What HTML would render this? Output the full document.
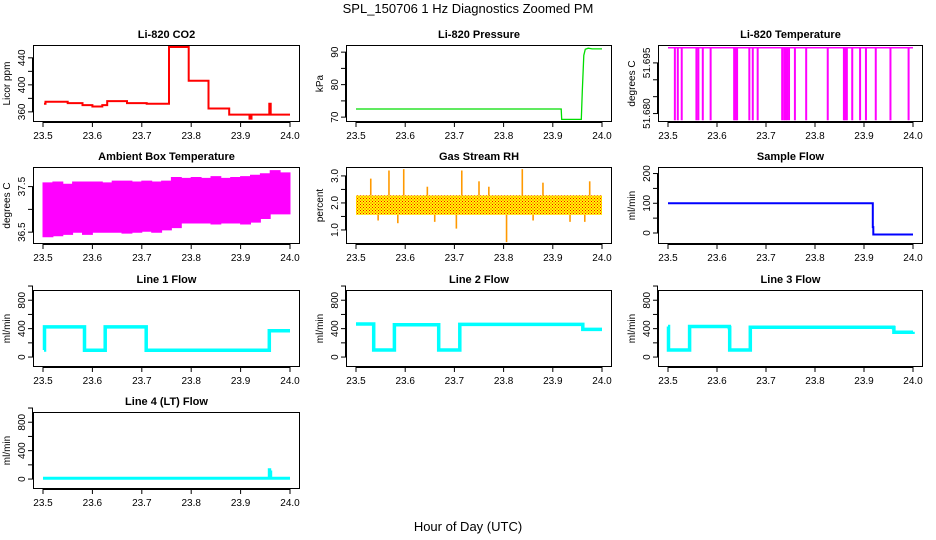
<!DOCTYPE html>
<html><head><meta charset="utf-8"><style>
body{margin:0;background:#fff;}
svg{display:block;font-family:"Liberation Sans",Arial,sans-serif;}
</style></head><body>
<svg id="c" width="936" height="540" xmlns="http://www.w3.org/2000/svg">
<defs>
<pattern id="rhpat" width="3" height="3" patternUnits="userSpaceOnUse"><rect width="3" height="3" fill="#ffff00"/><rect width="1" height="1" fill="#ff0000"/><rect x="1.5" y="1.5" width="1" height="1" fill="#ff0000"/></pattern>
</defs>
<text x="468" y="13" text-anchor="middle" font-size="13">SPL_150706  1 Hz Diagnostics Zoomed PM</text>
<text x="468" y="531" text-anchor="middle" font-size="13">Hour of Day (UTC)</text>
</svg>
<script>
// ---- data ----
const xTicks = [23.5, 23.6, 23.7, 23.8, 23.9, 24.0];
const xTickLabels = ["23.5", "23.6", "23.7", "23.8", "23.9", "24.0"];
const co2T = [23.502,23.505,23.55,23.58,23.60,23.62,23.63,23.67,23.71,23.755,23.795,23.835,23.877,23.915,23.918,23.922,23.957,23.958,23.961,24.0];
const co2V = [372,375,373,370,368,370,376,373,372,456,406,365,356,356,350,356,356,372,356,356];
const presT = [23.5,23.917,23.918,23.958,23.960,23.963,23.966,23.972,23.98,24.0];
const presV = [72.5,72.5,69.3,69.3,78,89,90.9,91.2,91,91];
const tempBase = 51.6995;
const tempLow = 51.678;
const tempDropTimes = [23.514,23.52,23.528,23.558,23.562,23.571,23.587,23.635,23.638,23.641,23.666,23.673,23.683,23.733,23.737,23.740,23.743,23.747,23.759,23.782,23.826,23.859,23.862,23.865,23.876,23.892,23.904,23.924,23.954,23.991];
const ambBins = [23.50,23.52,23.54,23.56,23.58,23.60,23.62,23.64,23.66,23.68,23.70,23.72,23.74,23.76,23.78,23.80,23.82,23.84,23.86,23.88,23.90,23.92,23.94,23.96,23.98];
const ambHi = [37.58,37.6,37.55,37.6,37.6,37.6,37.58,37.62,37.62,37.6,37.62,37.6,37.62,37.7,37.68,37.7,37.68,37.72,37.68,37.7,37.72,37.75,37.78,37.85,37.8];
const ambLo = [36.4,36.42,36.45,36.5,36.45,36.5,36.5,36.5,36.48,36.5,36.52,36.5,36.55,36.6,36.7,36.7,36.7,36.68,36.7,36.7,36.68,36.72,36.8,36.9,36.9];
const rhCoreHi = 2.28, rhCoreLo = 1.56;
const rhSpikeT = [23.53,23.567,23.597,23.715,23.75,23.838,23.88,23.975,23.545,23.585,23.704,23.806,23.935,23.965,23.645,23.66,23.77,23.86];
const rhSpikeV = [2.9,3.2,3.25,3.2,2.8,3.25,2.75,2.8,1.35,1.25,1.05,0.55,1.3,1.3,2.6,1.3,2.6,1.35];
const sfT = [23.5,23.917,23.918,23.919,23.921,24.0];
const sfV = [100,100,20,-5,-5,-5];
const l1T = [23.502,23.503,23.583,23.584,23.625,23.626,23.708,23.709,23.957,23.958,24.0];
const l1V = [100,425,425,95,95,425,425,95,95,370,370];
const l2T = [23.5,23.535,23.536,23.577,23.578,23.667,23.668,23.71,23.711,23.96,23.961,24.0];
const l2V = [465,465,100,100,455,455,100,100,460,460,390,390];
const l3T = [23.5,23.501,23.543,23.544,23.625,23.626,23.667,23.668,23.96,23.961,24.0];
const l3V = [430,100,100,430,415,100,100,420,415,350,355];
const l4T = [23.5,23.957,23.958,23.959,23.961,24.0];
const l4V = [10,10,130,100,10,10];

// ---- layout ----
const svg = document.getElementById('c');
const NS = 'http://www.w3.org/2000/svg';
const cols = [[33,300],[346,612],[658,923]];
const rows = [45,167,290,412];
const BH = 77;
function mk(tag, attrs, parent){ const e=document.createElementNS(NS,tag); for(const k in attrs) e.setAttribute(k,attrs[k]); (parent||svg).appendChild(e); return e; }

function panel(ci, ri, title, ylab, ydom, yticks, ylabels, name){
  const [L,R] = cols[ci]; const T = rows[ri], B = T+BH;
  const g = mk('g',{});
  
  
  const xs = v => (L+10) + (v-23.5)/0.5*(R-L-20);
  const ys = v => B - (v-ydom[0])/(ydom[1]-ydom[0])*BH;
  const t = mk('text',{x:(L+R)/2,y:T-7,'text-anchor':'middle','font-size':11,'font-weight':'bold'},g); t.textContent=title;
  
  
  const yl = mk('text',{x:0,y:0,'text-anchor':'middle','font-size':10,transform:`translate(${L-23},${(T+B)/2}) rotate(-90)`},g); yl.textContent=ylab;
  
  
  mk('line',{x1:xs(23.5),x2:xs(24),y1:B+0.5,y2:B+0.5,stroke:'#000'},g);
  xTicks.forEach((v,i)=>{
    mk('line',{x1:xs(v),x2:xs(v),y1:B,y2:B+5,stroke:'#000'},g);
    const tl = mk('text',{x:xs(v),y:B+17,'text-anchor':'middle','font-size':10},g); tl.textContent=xTickLabels[i];
    
    
  });
  mk('line',{x1:L-0.5,x2:L-0.5,y1:ys(yticks[0]),y2:ys(yticks[yticks.length-1]),stroke:'#000'},g);
  yticks.forEach((v,i)=>{
    mk('line',{x1:L-5,x2:L,y1:ys(v),y2:ys(v),stroke:'#000'},g);
    if(ylabels[i]){
      const tl = mk('text',{x:0,y:0,'text-anchor':'middle','font-size':10,transform:`translate(${L-8},${ys(v)}) rotate(-90)`},g); tl.textContent=ylabels[i];
      
      
    }
  });
  const clip = mk('g',{},g);
  mk('rect',{x:L+0.5,y:T+0.5,width:R-L-1,height:BH-1,fill:'none',stroke:'#000'},g);
  return {g:clip,xs,ys};
}
function stepLine(p, T, V, color, w, name){
  let d='';
  T.forEach((t,i)=>{ d += (i? 'L':'M') + p.xs(t).toFixed(1)+','+p.ys(V[i]).toFixed(1); if(i<T.length-1) d+='L'+p.xs(T[i+1]).toFixed(1)+','+p.ys(V[i]).toFixed(1); });
  const e = mk('path',{d,fill:'none',stroke:color,'stroke-width':w},p.g);
  
  
}
function line(p, T, V, color, w, name){
  const d = T.map((t,i)=>(i?'L':'M')+p.xs(t).toFixed(1)+','+p.ys(V[i]).toFixed(1)).join('');
  const e = mk('path',{d,fill:'none',stroke:color,'stroke-width':w},p.g);
  
  
}

let p = panel(0,0,'Li-820 CO2','Licor ppm',[345,459],[360,380,400,420,440],['360','','400','','440'],'co2');
stepLine(p, co2T, co2V, '#ff0000', 2, 'co2-series');
p = panel(1,0,'Li-820 Pressure','kPa',[68.5,92.2],[70,75,80,85,90],['70','','80','','90'],'pressure');
line(p, presT, presV, '#00dd00', 1.3, 'pressure-series');
p = panel(2,0,'Li-820 Temperature','degrees C',[51.6775,51.7003],[51.680,51.685,51.690,51.695],['51.680','','','51.695'],'li820-temp');
line(p,[23.5,24.0],[tempBase,tempBase],'#ff00ff',1.5,'temp-baseline');
tempDropTimes.forEach(t=>{
  const e = mk('line',{x1:p.xs(t),x2:p.xs(t),y1:p.ys(tempBase),y2:p.ys(tempLow),stroke:'#ff00ff','stroke-width':2},p.g);
  
  
});
p = panel(0,1,'Ambient Box Temperature','degrees C',[36.24,37.93],[36.5,37.0,37.5],['36.5','','37.5'],'ambient');
{
  let top='', bot='';
  ambBins.forEach((t,i)=>{ const t2 = i<ambBins.length-1? ambBins[i+1]:24.0;
    top += (i?'L':'M')+p.xs(t).toFixed(1)+','+p.ys(ambHi[i]).toFixed(1)+'L'+p.xs(t2).toFixed(1)+','+p.ys(ambHi[i]).toFixed(1);
    bot = 'L'+p.xs(t2).toFixed(1)+','+p.ys(ambLo[i]).toFixed(1)+'L'+p.xs(t).toFixed(1)+','+p.ys(ambLo[i]).toFixed(1)+bot; });
  const e = mk('path',{d:top+bot+'Z',fill:'#ff00ff',stroke:'#ff00ff'},p.g);
  
  
}
p = panel(1,1,'Gas Stream RH','percent',[0.48,3.33],[1.0,1.5,2.0,2.5,3.0],['1.0','','2.0','','3.0'],'rh');
{
  const e = mk('rect',{x:p.xs(23.5),y:p.ys(rhCoreHi),width:p.xs(24)-p.xs(23.5),height:p.ys(rhCoreLo)-p.ys(rhCoreHi),fill:'url(#rhpat)'},p.g);
  
  
  rhSpikeT.forEach((t,i)=>{
    const v = rhSpikeV[i]; const from = v>2? rhCoreHi: rhCoreLo;
    const s = mk('line',{x1:p.xs(t),x2:p.xs(t),y1:p.ys(from),y2:p.ys(v),stroke:'#ff9900','stroke-width':1.6},p.g);
    
    
  });
}
p = panel(2,1,'Sample Flow','ml/min',[-37,222],[0,50,100,150,200],['0','','100','','200'],'sample-flow');
stepLine(p, sfT, sfV, '#0000ff', 2, 'sample-flow-series');
const fy = [-140,944], ft=[0,200,400,600,800,1000], fl=['0','','400','','800',''];
p = panel(0,2,'Line 1 Flow','ml/min',fy,ft,fl,'line1-flow'); stepLine(p,l1T,l1V,'#00ffff',3.5,'line1-series');
p = panel(1,2,'Line 2 Flow','ml/min',fy,ft,fl,'line2-flow'); stepLine(p,l2T,l2V,'#00ffff',3.5,'line2-series');
p = panel(2,2,'Line 3 Flow','ml/min',fy,ft,fl,'line3-flow'); stepLine(p,l3T,l3V,'#00ffff',3.5,'line3-series');
p = panel(0,3,'Line 4 (LT) Flow','ml/min',fy,ft,fl,'line4-flow'); stepLine(p,l4T,l4V,'#00ffff',3,'line4-series');
</script>
</body></html>
